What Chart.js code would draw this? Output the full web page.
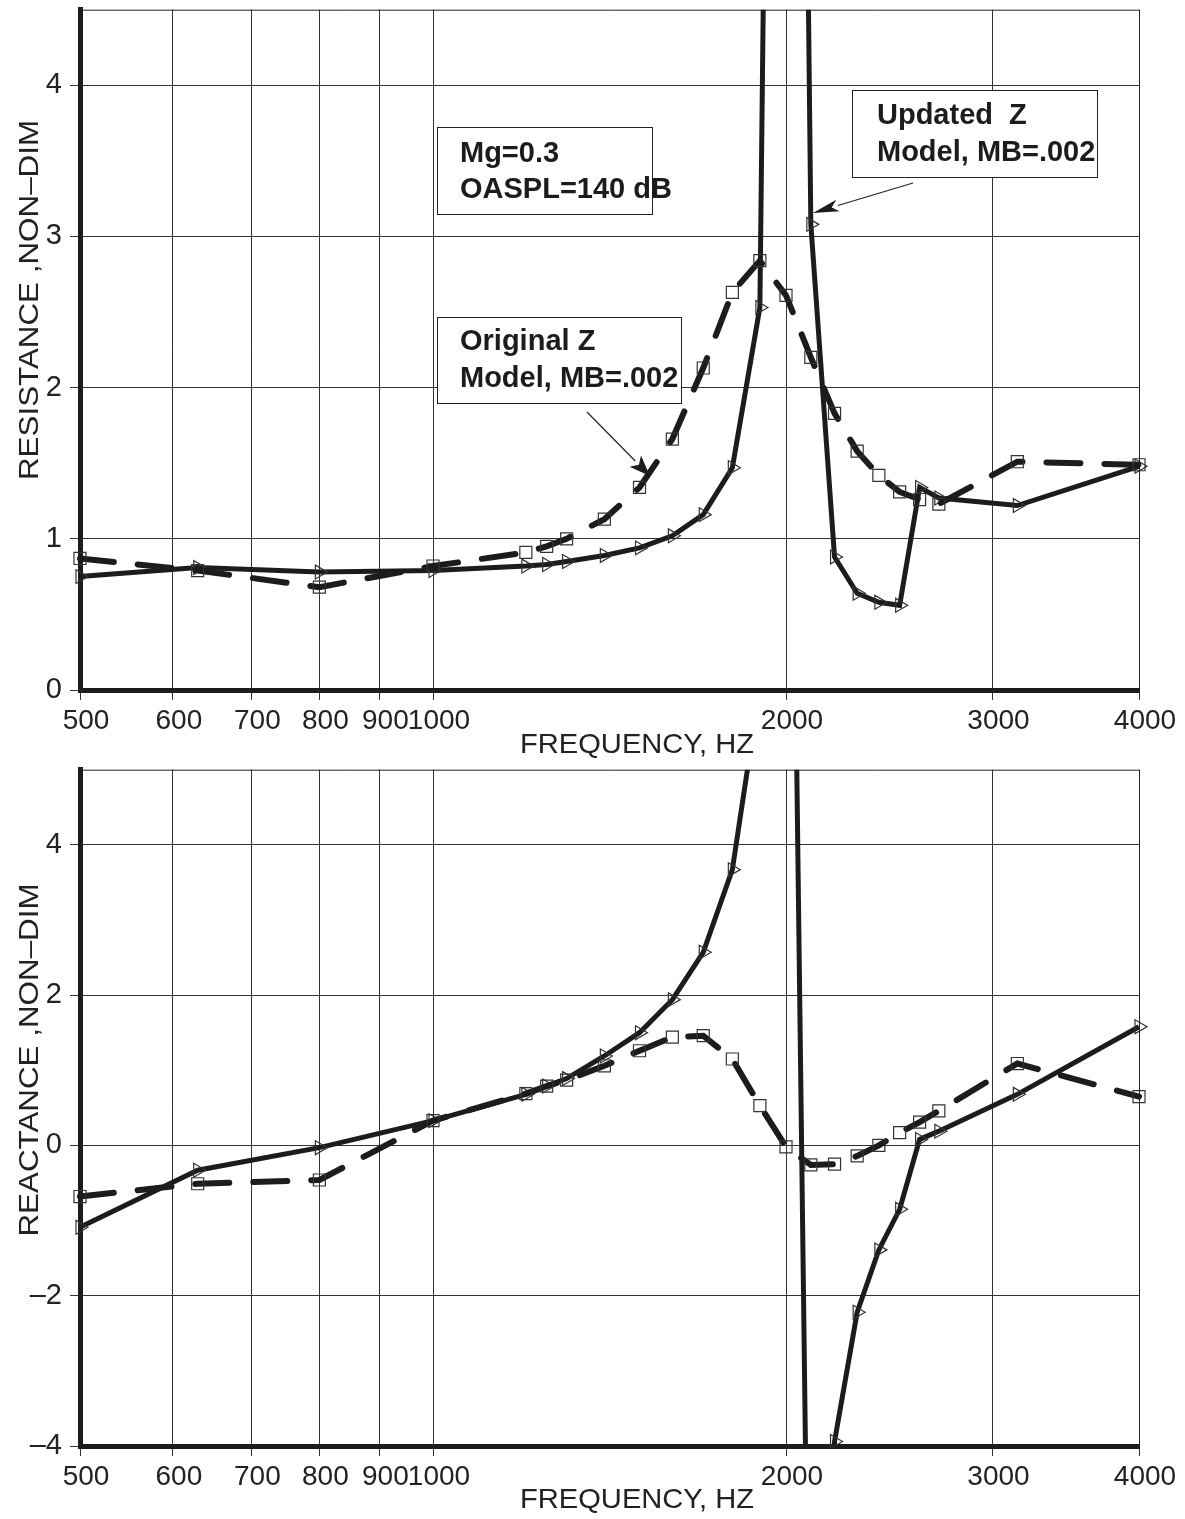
<!DOCTYPE html>
<html>
<head>
<meta charset="utf-8">
<script src="https://cdn.jsdelivr.net/npm/chart.js@4.4.1/dist/chart.umd.min.js"></script>
<style>
  html, body { margin: 0; padding: 0; background: #fff; }
  canvas { display: block; }
</style>
</head>
<body>
<canvas id="resistance" width="1185" height="760"></canvas>
<canvas id="reactance" width="1185" height="759"></canvas>
<script>
// measurement frequencies, Hz
const freqs = [500, 630, 800, 1000, 1200, 1250, 1300, 1400, 1500, 1600, 1700, 1800,
               1900, 2000, 2100, 2200, 2300, 2400, 2500, 2600, 2700, 3150, 4000];
const freqTicks = [500, 600, 700, 800, 900, 1000, 2000, 3000, 4000];

// resistance, non-dimensional
const resOriginal = [0.87, 0.79, 0.68, 0.82, 0.91, 0.95, 1.00, 1.13, 1.34, 1.66, 2.13, 2.63,
                     2.84, 2.61, 2.20, 1.83, 1.58, 1.42, 1.31, 1.26, 1.23, 1.51, 1.49];
const resUpdated  = [0.75, 0.81, 0.78, 0.79, 0.82, 0.83, 0.85, 0.89, 0.94, 1.02, 1.16, 1.47,
                     2.53, 18.0, 3.08, 0.88, 0.64, 0.58, 0.56, 1.34, 1.27, 1.22, 1.48];
const resTicks = [0, 1, 2, 3, 4];

// reactance, non-dimensional
const reaOriginal = [-0.68, -0.51, -0.46, 0.33, 0.69, 0.79, 0.87, 1.06, 1.26, 1.44, 1.46, 1.15,
                     0.53, -0.02, -0.26, -0.25, -0.14, 0.00, 0.17, 0.31, 0.46, 1.09, 0.65];
const reaUpdated  = [-1.09, -0.33, -0.03, 0.33, 0.68, 0.79, 0.89, 1.19, 1.50, 1.94, 2.57, 3.67,
                     6.1, 16.2, -9.6, -3.94, -2.22, -1.39, -0.85, 0.08, 0.19, 0.68, 1.58];
const reaTicks = [-4, -2, 0, 2, 4];

const ink = '#1c1c1c';
const FONT = '"Liberation Sans", Arial, Helvetica, sans-serif';
Chart.defaults.font.family = FONT;
Chart.defaults.color = '#222';

function pairs(ys) {
  return freqs.map((f, i) => ({ x: f, y: ys[i] }));
}

function fmt(v) {
  return v < 0 ? '\u2013' + Math.abs(v) : String(v);
}

function box(ctx, x, y, w, h) {
  ctx.fillStyle = '#fff';
  ctx.fillRect(x, y, w, h);
  ctx.strokeStyle = '#222';
  ctx.lineWidth = 1;
  ctx.strokeRect(x + 0.5, y + 0.5, w, h);
}

function arrow(ctx, x0, y0, x1, y1, len, half) {
  const a = Math.atan2(y1 - y0, x1 - x0);
  const bx = x1 - Math.cos(a) * len, by = y1 - Math.sin(a) * len;
  ctx.strokeStyle = '#222';
  ctx.lineWidth = 1.2;
  ctx.beginPath();
  ctx.moveTo(x0, y0);
  ctx.lineTo(bx, by);
  ctx.stroke();
  ctx.fillStyle = '#1c1c1c';
  ctx.beginPath();
  ctx.moveTo(x1, y1);
  ctx.lineTo(bx - Math.sin(a) * half, by + Math.cos(a) * half);
  ctx.lineTo(bx + Math.cos(a) * len * 0.25, by + Math.sin(a) * len * 0.25);
  ctx.lineTo(bx + Math.sin(a) * half, by - Math.cos(a) * half);
  ctx.closePath();
  ctx.fill();
}

// wide-set text, like the plotter's lettering
function wideText(ctx, text, x, y, rot, stretch) {
  ctx.save();
  ctx.translate(x, y);
  if (rot) ctx.rotate(rot);
  ctx.scale(stretch, 1);
  ctx.fillText(text, 0, 0);
  ctx.restore();
}

// frame top/right edges plus axis titles
function framePlugin(xTitle, yTitle, xTitleY, yTitleY, extra) {
  return {
    id: 'frame',
    afterDraw(chart) {
      const { ctx, chartArea: a } = chart;
      ctx.save();
      ctx.strokeStyle = '#222';
      ctx.lineWidth = 1;
      ctx.beginPath();
      ctx.moveTo(a.left, a.top + 0.5);
      ctx.lineTo(a.right + 0.5, a.top + 0.5);
      ctx.lineTo(a.right + 0.5, a.bottom);
      ctx.stroke();

      ctx.fillStyle = '#222';
      ctx.font = '28px ' + FONT;
      ctx.textAlign = 'center';
      ctx.textBaseline = 'middle';
      wideText(ctx, xTitle, 637, xTitleY, 0, 1.04);
      wideText(ctx, yTitle, 30, yTitleY, -Math.PI / 2, 1.12);
      ctx.restore();

      if (extra) {
        ctx.save();
        extra(ctx, chart);
        ctx.restore();
      }
    }
  };
}

function makeChart(id, original, updated, yMin, yMax, yTicks, triRotation, padTop, xHeight, plugin) {
  return new Chart(document.getElementById(id), {
    type: 'line',
    data: {
      datasets: [
        {
          label: 'Original Z',
          data: pairs(original),
          borderColor: ink,
          borderWidth: 6,
          borderDash: [34, 24],
          borderCapStyle: 'round',
          pointStyle: 'rect',
          pointRadius: 8.5,
          pointBorderWidth: 1.2,
          pointBorderColor: '#333',
          pointBackgroundColor: 'rgba(0,0,0,0)',
          tension: 0,
          clip: { left: 12, right: 12, top: 0, bottom: 2 }
        },
        {
          label: 'Updated Z',
          data: pairs(updated),
          borderColor: ink,
          borderWidth: 5,
          pointStyle: 'triangle',
          pointRotation: triRotation,
          pointRadius: 8,
          pointBorderWidth: 1.2,
          pointBorderColor: '#333',
          pointBackgroundColor: 'rgba(0,0,0,0)',
          tension: 0,
          clip: { left: 12, right: 12, top: 0, bottom: 2 }
        }
      ]
    },
    options: {
      responsive: false,
      animation: false,
      layout: { padding: { top: padTop, right: 46, left: 0, bottom: 0 } },
      plugins: { legend: { display: false }, tooltip: { enabled: false } },
      scales: {
        x: {
          type: 'logarithmic',
          min: 500,
          max: 4000,
          afterBuildTicks: s => { s.ticks = freqTicks.map(v => ({ value: v })); },
          afterFit: s => { s.height = xHeight; s.paddingLeft = 0; s.paddingRight = 0; },
          ticks: {
            autoSkip: false,
            maxRotation: 0,
            minRotation: 0,
            padding: 4,
            labelOffset: 6,
            font: { size: 28 },
            color: '#222',
            callback: v => String(v)
          },
          grid: { color: '#333', lineWidth: 1, tickLength: 10, tickColor: '#333' },
          border: { color: ink, width: 5 }
        },
        y: {
          min: yMin,
          max: yMax,
          afterBuildTicks: s => { s.ticks = yTicks.map(v => ({ value: v })); },
          afterFit: s => { s.width = 80; s.paddingTop = 0; s.paddingBottom = 0; },
          ticks: {
            padding: 8,
            font: { size: 29 },
            color: '#222',
            callback: v => fmt(v)
          },
          grid: { color: '#333', lineWidth: 1, tickLength: 10, tickColor: '#333' },
          border: { color: ink, width: 5 }
        }
      }
    },
    plugins: [plugin]
  });
}

// text notes on the resistance panel
function resistanceNotes(ctx) {
  ctx.font = 'bold 29px ' + FONT;
  ctx.textAlign = 'left';
  ctx.textBaseline = 'alphabetic';

  box(ctx, 437, 127, 215, 87);
  ctx.fillStyle = '#1c1c1c';
  ctx.fillText('Mg=0.3', 460, 162);
  ctx.fillText('OASPL=140 dB', 460, 198);

  box(ctx, 437, 317, 244, 86);
  ctx.fillStyle = '#1c1c1c';
  ctx.fillText('Original Z', 460, 350);
  ctx.fillText('Model, MB=.002', 460, 387);
  arrow(ctx, 587, 412, 650, 476, 21, 8);

  box(ctx, 852, 90, 245, 87);
  ctx.fillStyle = '#1c1c1c';
  ctx.fillText('Updated  Z', 877, 124);
  ctx.fillText('Model, MB=.002', 877, 161);
  arrow(ctx, 913, 183, 813, 213, 26, 6);
}

makeChart('resistance', resOriginal, resUpdated, 0, 4.5, resTicks, 210, 8, 70,
  framePlugin('FREQUENCY, HZ', 'RESISTANCE ,NON\u2013DIM', 745, 300, resistanceNotes));

makeChart('reactance', reaOriginal, reaUpdated, -4, 5, reaTicks, 90, 5, 73,
  framePlugin('FREQUENCY, HZ', 'REACTANCE ,NON\u2013DIM', 740, 300, null));
</script>
</body>
</html>
